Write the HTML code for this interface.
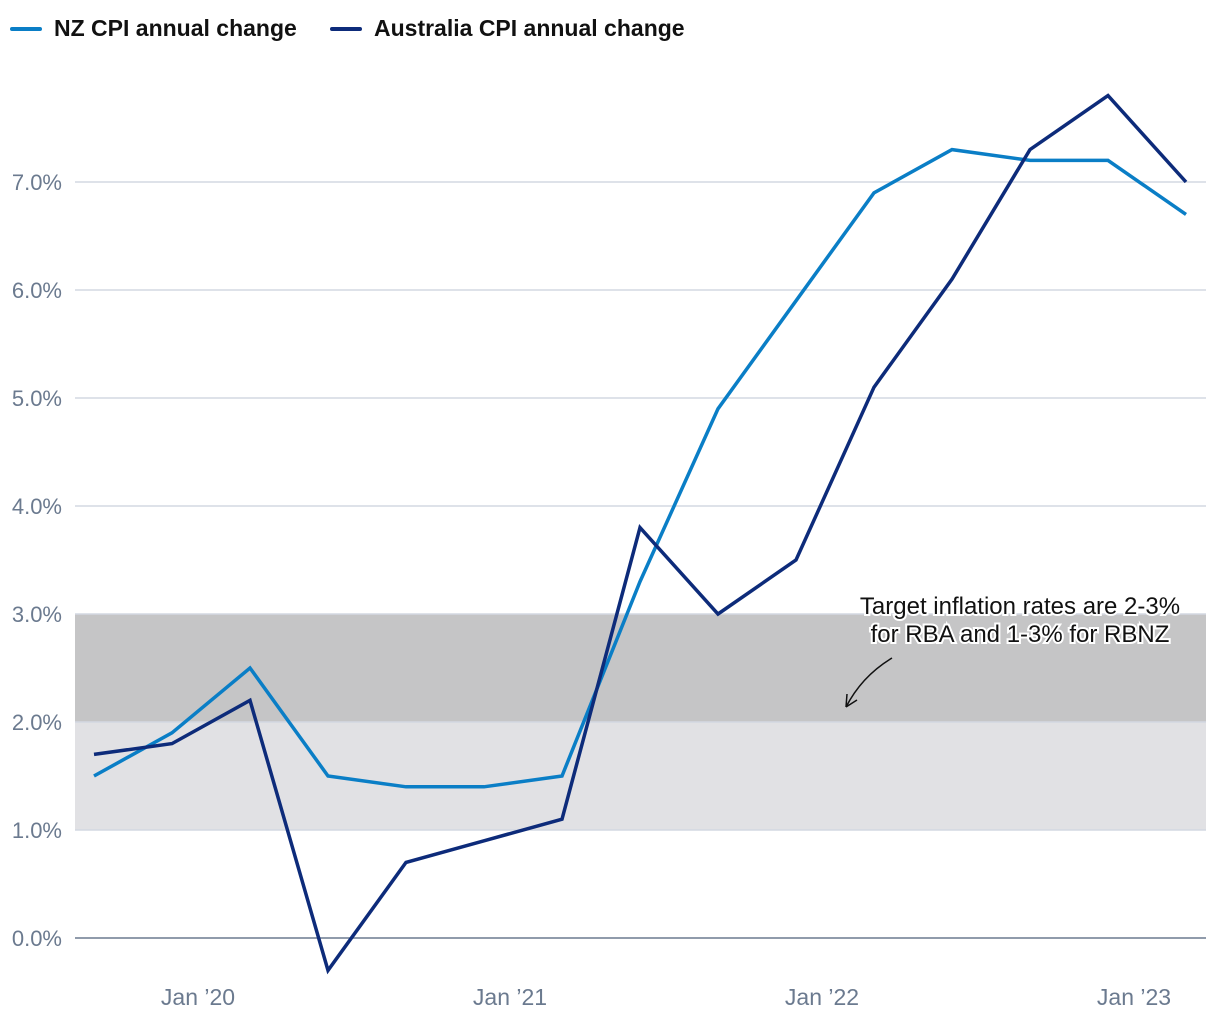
<!DOCTYPE html>
<html><head><meta charset="utf-8"><style>
body{margin:0;background:#fff;width:1220px;height:1020px;overflow:hidden;font-family:"Liberation Sans",sans-serif}
.leg{position:absolute;top:15px;font-size:23px;font-weight:bold;color:#111;display:flex;align-items:center}
.sw{width:32px;height:4px;border-radius:2px;margin-right:12px}
</style></head><body>
<div class="leg" style="left:10px"><div class="sw" style="background:#0a7ec6"></div>NZ CPI annual change</div>
<div class="leg" style="left:330px"><div class="sw" style="background:#0d2b7a"></div>Australia CPI annual change</div>
<svg id="chart" width="1220" height="1020" style="position:absolute;left:0;top:0"></svg>
<script>
const yTicks=[0,1,2,3,4,5,6,7];
const xLabels=["Jan ’20","Jan ’21","Jan ’22","Jan ’23"];
const xLabelMonths=[4,16,28,40];
const nzValues=[1.5,1.9,2.5,1.5,1.4,1.4,1.5,3.3,4.9,5.9,6.9,7.3,7.2,7.2,6.7];
const auValues=[1.7,1.8,2.2,-0.3,0.7,0.9,1.1,3.8,3.0,3.5,5.1,6.1,7.3,7.8,7.0];
const NS="http://www.w3.org/2000/svg";
const svg=document.getElementById('chart');
const X0=75,X1=1206;
const y=v=>938-v*108;
const xm=m=>94+m*26;
const xi=i=>xm(i*3);
function mk(t,a,p){const e=document.createElementNS(NS,t);for(const k in a)e.setAttribute(k,a[k]);(p||svg).appendChild(e);return e;}
let b1=mk('rect',{x:X0,y:y(3),width:X1-X0,height:y(1)-y(3),fill:'#e1e1e4'});


let b2=mk('rect',{x:X0,y:y(3),width:X1-X0,height:y(2)-y(3),fill:'#c5c5c6'});


yTicks.forEach(v=>{
 let g=mk('line',{x1:X0,x2:X1,y1:y(v),y2:y(v),stroke:v===0?'#6b7a8f':'#d3d8e2','stroke-width':1.5});
 
 
 let t=mk('text',{x:62,y:y(v)+8,'text-anchor':'end','font-size':22,fill:'#6b7a8f'});
 t.textContent=v.toFixed(1)+'%';
 
 
});
xLabels.forEach((l,i)=>{
 let t=mk('text',{x:xm(xLabelMonths[i]),y:1005,'text-anchor':'middle','font-size':23,fill:'#6b7a8f'});
 t.textContent=l;
 
 
});
function line(vals,col,name){
 let p=mk('polyline',{points:vals.map((v,i)=>xi(i)+','+y(v)).join(' '),fill:'none',stroke:col,'stroke-width':3.5,'stroke-linejoin':'miter'});
 
 
}
line(nzValues,'#0a7ec6','nz-cpi-line');
line(auValues,'#0d2b7a','australia-cpi-line');
let ann=mk('text',{x:1020,y:614,'text-anchor':'middle','font-size':24,fill:'#111',stroke:'#fff','stroke-width':4,'paint-order':'stroke'});


let s1=mk('tspan',{x:1020},ann);s1.textContent='Target inflation rates are 2-3%';
let s2=mk('tspan',{x:1020,dy:28},ann);s2.textContent='for RBA and 1-3% for RBNZ';
let ar=mk('path',{d:'M892,658 Q862,676 846,707 M846,707 L847,694 M846,707 L857,700',fill:'none',stroke:'#111','stroke-width':1.5});


</script>
</body></html>
